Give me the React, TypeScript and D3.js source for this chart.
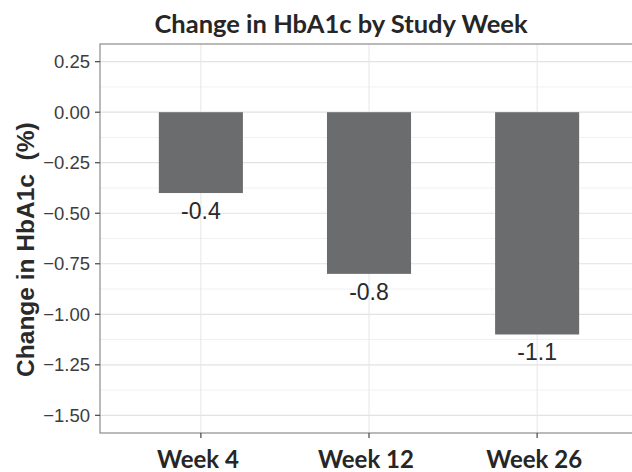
import * as d3 from 'd3';

const weeks = ['Week 4', 'Week 12', 'Week 26'];
const changeValues = [-0.4, -0.8, -1.1];
const barLabels = ['-0.4', '-0.8', '-1.1'];
const yTicks = [0.25, 0, -0.25, -0.5, -0.75, -1.0, -1.25, -1.5];

const width = 632;
const height = 472;
const margin = { top: 44, right: -6, bottom: 39, left: 100 };

const sansFont = '"Liberation Sans", Arial, Helvetica, sans-serif';
const boldFont = 'Lato, "Open Sans", sans-serif';

export default function App() {
    const innerW = width - margin.left - margin.right;
    const innerH = height - margin.top - margin.bottom;

    // ggplot-like 5% expansion around [-1.5, 0.25]
    const yScale = d3
        .scaleLinear()
        .domain([-1.5875, 0.3375])
        .range([innerH, 0]);

    // discrete axis, 0.6 units of padding on each side
    const xScale = d3
        .scalePoint()
        .domain(weeks)
        .range([0, innerW])
        .padding(0.6);
    const barW = xScale.step() * 0.5;

    const minorTicks = d3
        .range(-1.625, 0.375, 0.25)
        .filter((v) => v > -1.5875 && v < 0.3375);

    return (
        <svg
            width={width}
            height={height}
            style={{ position: 'absolute', left: 0, top: 0, background: '#fff' }}
        >
            <text
                x={341}
                y={33}
                textAnchor='middle'
                fontFamily={boldFont}
                fontWeight='bold'
                fontSize={25.5}
                fill='#262626'
            >
                Change in HbA1c by Study Week
            </text>
            <g transform={`translate(${margin.left},${margin.top})`}>
                {minorTicks.map((v) => (
                    <line
                        key={'m' + v}
                        x1={0}
                        x2={innerW}
                        y1={yScale(v)}
                        y2={yScale(v)}
                        stroke='#f1f1f1'
                        strokeWidth={1}
                    />
                ))}
                {yTicks.map((v) => (
                    <line
                        key={'g' + v}
                        x1={0}
                        x2={innerW}
                        y1={yScale(v)}
                        y2={yScale(v)}
                        stroke='#e2e2e2'
                        strokeWidth={1.2}
                    />
                ))}
                {weeks.map((w) => (
                    <line
                        key={'v' + w}
                        x1={xScale(w)}
                        x2={xScale(w)}
                        y1={0}
                        y2={innerH}
                        stroke='#e6e6e6'
                        strokeWidth={1}
                    />
                ))}
                {weeks.map((w, i) => (
                    <rect
                        key={'b' + w}
                        x={xScale(w) - barW / 2}
                        y={yScale(0)}
                        width={barW}
                        height={yScale(changeValues[i]) - yScale(0)}
                        fill='#6b6c6e'
                    />
                ))}
                {weeks.map((w, i) => (
                    <text
                        key={'l' + w}
                        x={xScale(w)}
                        y={yScale(changeValues[i]) + 26}
                        textAnchor='middle'
                        fontFamily={sansFont}
                        fontSize={23}
                        fill='#2a2a2a'
                    >
                        {barLabels[i]}
                    </text>
                ))}
                <rect
                    x={0}
                    y={0}
                    width={innerW}
                    height={innerH}
                    fill='none'
                    stroke='#8c8c8c'
                    strokeWidth={1.2}
                />
                {yTicks.map((v) => (
                    <g key={'t' + v} transform={`translate(0,${yScale(v)})`}>
                        <line x1={-5} x2={0} stroke='#444' strokeWidth={1.2} />
                        <text
                            x={-10}
                            dy='0.36em'
                            textAnchor='end'
                            fontFamily={sansFont}
                            fontSize={18.5}
                            fill='#3d3d3d'
                        >
                            {d3.format('.2f')(v)}
                        </text>
                    </g>
                ))}
                {weeks.map((w) => (
                    <g key={'x' + w} transform={`translate(${xScale(w)},${innerH})`}>
                        <line y1={0} y2={5} stroke='#444' strokeWidth={1.2} />
                        <text
                            x={-3}
                            y={35}
                            textAnchor='middle'
                            fontFamily={boldFont}
                            fontWeight='bold'
                            fontSize={24}
                            fill='#262626'
                        >
                            {w}
                        </text>
                    </g>
                ))}
            </g>
            <text
                transform={`translate(34,${margin.top + yScale(-0.68)}) rotate(-90)`}
                textAnchor='middle'
                fontFamily={sansFont}
                fontWeight='bold'
                fontSize={24.5}
                fill='#2a2a2a'
                style={{ whiteSpace: 'pre' }}
            >
                Change in HbA1c  (%)
            </text>
        </svg>
    );
}
